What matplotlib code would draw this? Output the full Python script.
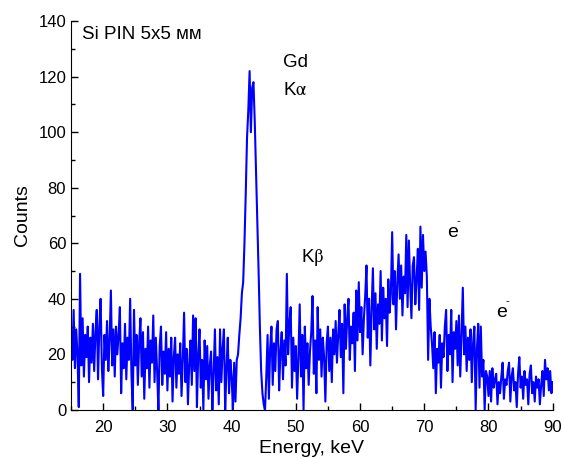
import numpy as np
import matplotlib
matplotlib.use('Agg')
import matplotlib.pyplot as plt
from matplotlib.ticker import MultipleLocator

plt.rcParams['font.family'] = ['Liberation Sans', 'DejaVu Sans']
plt.rcParams['mathtext.fontset'] = 'stix'

# counts, one value per 0.2 keV channel, 5 keV per list
counts_15 = [28, 18, 36, 15, 29, 20, 1, 49, 16, 33, 12, 27, 19, 30, 10, 26, 17, 31, 14, 28, 36, 11, 30, 40, 15]
counts_20 = [5, 27, 18, 32, 14, 25, 43, 16, 29, 12, 30, 20, 27, 37, 6, 24, 15, 31, 11, 26, 18, 40, 13, 0, 36]
counts_25 = [16, 27, 9, 24, 33, 12, 28, 4, 22, 15, 30, 8, 25, 17, 34, 10, 26, 14, 0, 23, 30, 9, 21, 13, 28]
counts_30 = [7, 22, 12, 26, 3, 19, 26, 8, 20, 13, 24, 5, 18, 35, 10, 22, 2, 17, 25, 9, 34, 14, 33, 1, 20]
counts_35 = [29, 8, 18, 0, 25, 11, 23, 4, 16, 21, 0, 13, 29, 7, 19, 2, 29, 10, 22, 29, 0, 15, 26, 6, 18]
counts_40 = [12, 0, 17, 3, 18, 20, 27, 33, 42, 46, 60, 78, 98, 108, 122, 100, 116, 118, 104, 86, 68, 50, 30, 14, 6]
counts_45 = [2, 0, 12, 27, 4, 22, 30, 9, 24, 14, 29, 32, 7, 21, 28, 11, 25, 16, 49, 20, 31, 37, 8, 26, 14]
counts_50 = [23, 4, 19, 38, 12, 27, 0, 30, 15, 24, 9, 21, 28, 41, 13, 25, 6, 37, 18, 29, 12, 26, 19, 3, 24]
counts_55 = [30, 14, 26, 10, 29, 20, 32, 17, 27, 36, 19, 31, 6, 38, 22, 33, 40, 18, 30, 24, 35, 14, 43, 25, 46]
counts_60 = [28, 37, 20, 33, 41, 52, 26, 40, 16, 36, 51, 29, 42, 22, 38, 31, 50, 25, 44, 33, 40, 23, 47, 35, 42]
counts_65 = [64, 38, 50, 29, 46, 56, 40, 52, 34, 48, 42, 63, 37, 61, 45, 33, 52, 55, 38, 47, 58, 36, 66, 44, 63]
counts_70 = [50, 57, 48, 18, 40, 30, 24, 15, 28, 6, 22, 17, 27, 8, 24, 19, 30, 36, 14, 27, 20, 36, 10, 28, 22]
counts_75 = [32, 16, 34, 12, 27, 44, 20, 30, 14, 26, 18, 29, 10, 24, 30, 0, 22, 31, 8, 30, 12, 18, 0, 14, 12]
counts_80 = [5, 14, 3, 15, 8, 11, 13, 2, 10, 6, 12, 17, 4, 11, 9, 14, 17, 3, 12, 15, 7, 10, 1, 13, 19]
counts_85 = [8, 12, 4, 14, 9, 11, 2, 13, 16, 6, 10, 3, 12, 8, 11, 2, 9, 14, 5, 18, 11, 15, 7, 14, 6, 10]

counts = (counts_15 + counts_20 + counts_25 + counts_30 + counts_35 + counts_40 + counts_45 + counts_50
          + counts_55 + counts_60 + counts_65 + counts_70 + counts_75 + counts_80 + counts_85)
energy = np.linspace(15, 90, len(counts))

fig = plt.figure(figsize=(5.64, 4.59), dpi=100)
ax = fig.add_axes([0.126, 0.107, 0.854, 0.847])

ax.plot(energy, counts, color='#0000ff', lw=1.5)

ax.set_xlim(15, 90)
ax.set_ylim(0, 140)
ax.xaxis.set_major_locator(MultipleLocator(10))
ax.xaxis.set_minor_locator(MultipleLocator(5))
ax.yaxis.set_major_locator(MultipleLocator(20))
ax.yaxis.set_minor_locator(MultipleLocator(10))
ax.tick_params(which='both', direction='in', labelsize=12, width=1)
ax.tick_params(which='major', length=5)
ax.tick_params(which='minor', length=3)
ax.tick_params(axis='x', pad=7)
ax.spines['top'].set_visible(False)
ax.spines['right'].set_visible(False)

ax.set_xlabel('Energy, keV', fontsize=14, labelpad=4)
ax.set_ylabel('Counts', fontsize=14, labelpad=5)

ax.text(16.7, 135, 'Si PIN 5x5 мм', fontsize=13.5, va='center')
ax.text(48.0, 125, 'Gd', fontsize=13.5, va='center')
ax.text(48.0, 115, r'K$\mathrm{\alpha}$', fontsize=13.5, va='center')
ax.text(50.8, 55, r'K$\mathrm{\beta}$', fontsize=13.5, va='center')

# electron marks: "e" with a small raised minus
for x, y in [(73.5, 64), (81.2, 35)]:
    ax.text(x, y, 'e', fontsize=14, va='center')
    ax.text(x + 1.5, y + 4, '-', fontsize=8, va='center')

fig.savefig('out.png', dpi=100)
